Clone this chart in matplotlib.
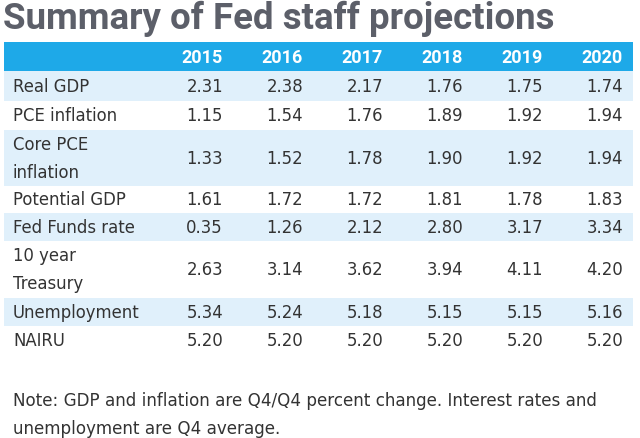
import matplotlib
matplotlib.use("Agg")
import matplotlib.pyplot as plt
from matplotlib.patches import Rectangle

title = "Summary of Fed staff projections"
years = ["2015", "2016", "2017", "2018", "2019", "2020"]
row_labels = ["Real GDP", "PCE inflation", "Core PCE\ninflation", "Potential GDP",
              "Fed Funds rate", "10 year\nTreasury", "Unemployment", "NAIRU"]
real_gdp = [2.31, 2.38, 2.17, 1.76, 1.75, 1.74]
pce_inflation = [1.15, 1.54, 1.76, 1.89, 1.92, 1.94]
core_pce = [1.33, 1.52, 1.78, 1.90, 1.92, 1.94]
potential_gdp = [1.61, 1.72, 1.72, 1.81, 1.78, 1.83]
fed_funds = [0.35, 1.26, 2.12, 2.80, 3.17, 3.34]
treasury_10y = [2.63, 3.14, 3.62, 3.94, 4.11, 4.20]
unemployment = [5.34, 5.24, 5.18, 5.15, 5.15, 5.16]
nairu = [5.20, 5.20, 5.20, 5.20, 5.20, 5.20]
note = ("Note: GDP and inflation are Q4/Q4 percent change. Interest rates and\n"
        "unemployment are Q4 average.")

rows = [real_gdp, pce_inflation, core_pce, potential_gdp,
        fed_funds, treasury_10y, unemployment, nairu]

W, H = 640, 439
fig = plt.figure(figsize=(W / 100, H / 100), dpi=100)
ax = fig.add_axes([0, 0, 1, 1])
ax.set_xlim(0, W)
ax.set_ylim(H, 0)
ax.axis("off")

BLUE = "#1ea9e8"
LIGHT = "#e0f0fb"
TEXT = "#333333"
TITLE_C = "#5c5f69"

# title
ax.text(3, 29, title, fontsize=26.4, fontweight="bold", family=["Roboto", "DejaVu Sans"],
        color=TITLE_C, va="baseline", ha="left")

left, right = 4, 633
bounds = [43, 72, 102, 131, 187, 214, 242, 299, 327, 355]
col_right = [223 + 80 * i for i in range(len(years))]

# header
ax.add_patch(Rectangle((left, bounds[0]), right - left, bounds[1] - bounds[0],
                       facecolor=BLUE, edgecolor="none"))
for x, y in zip(col_right, years):
    ax.text(x, (bounds[0] + bounds[1]) / 2 + 0.5, y, fontsize=13, fontweight="bold",
            family=["Roboto", "DejaVu Sans"], color="white", ha="right", va="center")

body_font = ["DejaVu Sans"]
FS = 11.9
for i, (lab, vals) in enumerate(zip(row_labels, rows)):
    top, bot = bounds[i + 1], bounds[i + 2]
    if i % 2 == 0:
        ax.add_patch(Rectangle((left, top), right - left, bot - top,
                               facecolor=LIGHT, edgecolor="none"))
    yc = (top + bot) / 2
    lines = lab.split("\n")
    if len(lines) == 1:
        ax.text(13, yc, lab, fontsize=FS, family=body_font, color=TEXT,
                ha="left", va="center")
    else:
        ax.text(13, yc - 14, lines[0], fontsize=FS, family=body_font, color=TEXT,
                ha="left", va="center")
        ax.text(13, yc + 14, lines[1], fontsize=FS, family=body_font, color=TEXT,
                ha="left", va="center")
    for x, v in zip(col_right, vals):
        ax.text(x, yc, f"{v:.2f}", fontsize=FS, family=body_font, color=TEXT,
                ha="right", va="center")

nl = note.split("\n")
ax.text(13, 401, nl[0], fontsize=12.1, family=body_font, color=TEXT, ha="left", va="center")
ax.text(13, 429, nl[1], fontsize=12.1, family=body_font, color=TEXT, ha="left", va="center")

fig.savefig("out.png", dpi=100, facecolor="white")
